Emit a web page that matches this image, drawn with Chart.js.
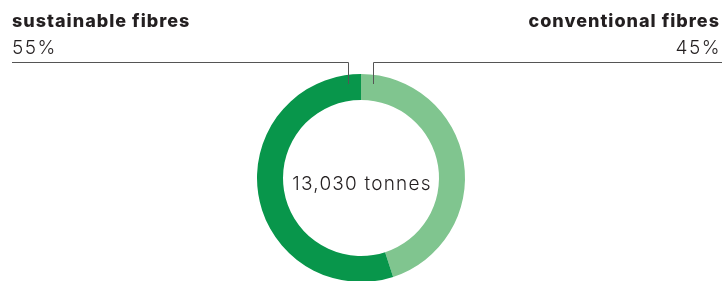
<!DOCTYPE html>
<html>
<head>
<meta charset="utf-8">
<script src="https://cdn.jsdelivr.net/npm/chart.js@4/dist/chart.umd.min.js"></script>
<style>
  html, body { margin: 0; padding: 0; background: #fff; overflow: hidden; }
  #wrap { position: relative; width: 724px; height: 281px; overflow: hidden; }
  #chart { position: absolute; left: 0; top: 0; }
</style>
</head>
<body>
<div id="wrap">
  <canvas id="chart" width="724" height="300"></canvas>
</div>
<script>
// data
const categories = ["conventional fibres", "sustainable fibres"];
const shares = [45, 55];
const shareLabels = ["45%", "55%"];
const totalLabel = "13,030 tonnes";
const colours = ["#80c58f", "#08964b"];

const ink = "#231f20";

// draws headings, leader lines and the total in the middle
const labelsPlugin = {
	id: "labels",
	afterDraw(chart) {
		const ctx = chart.ctx;
		const arc = chart.getDatasetMeta(0).data[0];
		const cx = arc.x;
		const cy = arc.y;
		const rOut = arc.outerRadius;
		const lineY = 62;
		const tickBottom = cy - rOut + 10;

		ctx.save();
		ctx.strokeStyle = "#555";
		ctx.lineWidth = 1;

		// left leader (sustainable)
		ctx.beginPath();
		ctx.moveTo(12, lineY + 0.5);
		ctx.lineTo(cx - 13 + 0.5, lineY + 0.5);
		ctx.lineTo(cx - 13 + 0.5, tickBottom);
		ctx.stroke();

		// right leader (conventional)
		ctx.beginPath();
		ctx.moveTo(722, lineY + 0.5);
		ctx.lineTo(cx + 12 + 0.5, lineY + 0.5);
		ctx.lineTo(cx + 12 + 0.5, tickBottom);
		ctx.stroke();

		ctx.fillStyle = ink;
		ctx.textBaseline = "alphabetic";

		ctx.font = "800 18px Inter";
		ctx.letterSpacing = "1px";
		ctx.textAlign = "left";
		ctx.fillText(categories[1], 12, 27);
		ctx.textAlign = "right";
		ctx.fillText(categories[0], 720, 27);

		ctx.font = "300 19px Inter";
		ctx.letterSpacing = "1.5px";
		ctx.textAlign = "left";
		ctx.fillText(shareLabels[1], 12, 54);
		ctx.textAlign = "right";
		ctx.fillText(shareLabels[0], 721, 54);

		ctx.font = "300 19px Inter";
		ctx.letterSpacing = "1.2px";
		ctx.textAlign = "center";
		ctx.fillText(totalLabel, cx + 1, 190);
		ctx.restore();
	}
};

new Chart(document.getElementById("chart"), {
	type: "doughnut",
	data: {
		labels: categories,
		datasets: [{
			data: shares,
			backgroundColor: colours,
			borderWidth: 0
		}]
	},
	options: {
		responsive: false,
		animation: false,
		cutout: "75%",
		layout: {
			padding: { left: 257, right: 259, top: 74, bottom: 18 }
		},
		plugins: {
			legend: { display: false },
			tooltip: { enabled: false }
		}
	},
	plugins: [labelsPlugin]
});
</script>
</body>
</html>
